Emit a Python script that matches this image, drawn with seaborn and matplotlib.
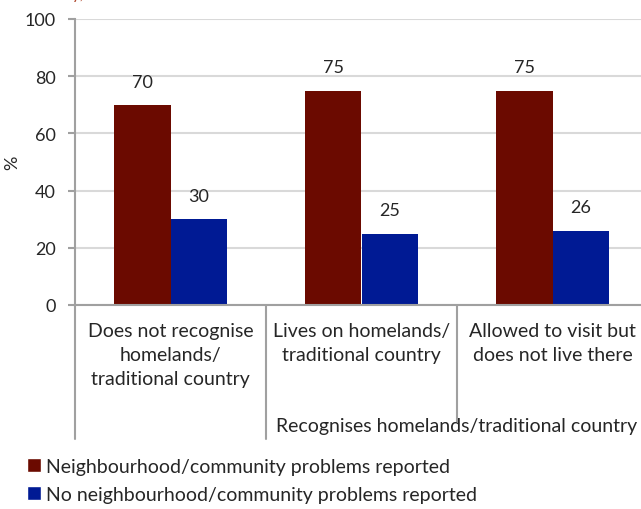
import pandas as pd
import numpy as np
import matplotlib
matplotlib.use('Agg')
import matplotlib.pyplot as plt
import matplotlib.transforms as mtransforms
from matplotlib.patches import Patch
import seaborn as sns

categories = ['Does not recognise\nhomelands/\ntraditional country',
              'Lives on homelands/\ntraditional country',
              'Allowed to visit but\ndoes not live there']
group_label = 'Recognises homelands/traditional country'
series = ['Neighbourhood/community problems reported',
          'No neighbourhood/community problems reported']
problems = [70, 75, 75]
no_problems = [30, 25, 26]
colors = ['#6b0a00', '#001a94']

df = pd.DataFrame({
    'cat': categories * 2,
    'series': [series[0]] * 3 + [series[1]] * 3,
    'value': problems + no_problems,
})

sns.set_style('white')
plt.rcParams['font.family'] = ['Lato', 'DejaVu Sans']

fig = plt.figure(figsize=(6.41, 5.10), dpi=100)
ax = fig.add_axes([75 / 641, 1 - 306 / 510, 573 / 641, 286 / 510])

sns.barplot(data=df, x='cat', y='value', hue='series', palette=colors,
            width=0.59, saturation=1, legend=False, ax=ax, zorder=2,
            linewidth=0)

for cont in ax.containers:
    ax.bar_label(cont, fmt='%d', padding=11, fontsize=13)

ax.set_ylim(0, 100)
ax.set_yticks(np.arange(0, 101, 20))
ax.set_xlim(-0.5, 2.5)
ax.yaxis.grid(True, color='#d9d9d9', linewidth=1.5, zorder=0)
ax.set_axisbelow(True)
for s in ['top', 'right']:
    ax.spines[s].set_visible(False)
for s in ['left', 'bottom']:
    ax.spines[s].set_color('#a0a0a0')
    ax.spines[s].set_linewidth(1.5)
ax.tick_params(axis='y', left=True, length=5, width=1.5, color='#a0a0a0',
               labelsize=13, pad=9)
ax.set_xticks([])
ax.set_xlabel('')
ax.set_ylabel('%', fontsize=13, labelpad=3)

# category labels and divider lines under the axis
trans = mtransforms.blended_transform_factory(ax.transData, ax.transAxes)
for x0, y1 in [(-0.5, -0.469), (0.5, -0.469), (1.5, -0.409)]:
    ax.plot([x0, x0], [0, y1], color='#a0a0a0', lw=1.5, transform=trans,
            clip_on=False)
for i, c in enumerate(categories):
    ax.text(i, -0.058, c, transform=trans, ha='center', va='top',
            fontsize=14, linespacing=1.5)
ax.text(1.5, -0.42, group_label, transform=trans, ha='center', va='center',
        fontsize=14)

# cropped title fragment at the top
fig.text(0.112, 1.012, 'y,', color='#b04a30', fontsize=12, ha='left',
         va='center')

handles = [Patch(facecolor=c) for c in colors]
fig.legend(handles, series, loc='lower left', bbox_to_anchor=(0.015, -0.022),
           frameon=False, fontsize=14, handlelength=0.7, handleheight=0.7,
           handletextpad=0.25, labelspacing=0.55)

fig.savefig('out.png', dpi=100)
